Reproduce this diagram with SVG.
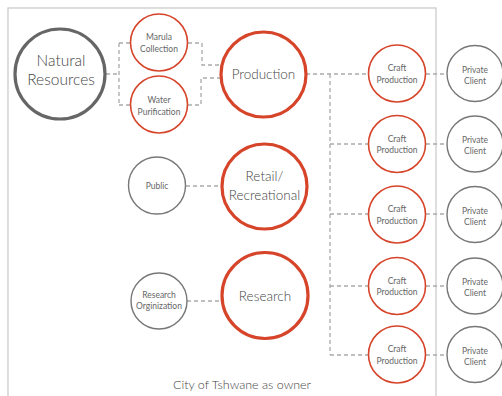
<svg xmlns="http://www.w3.org/2000/svg" width="502" height="396" viewBox="0 0 502 396">
<style>
.red{fill:#fff;stroke:#d6442a;stroke-width:1.6}
.redb{fill:#fff;stroke:#d6442a;stroke-width:3.2}
.gray{fill:#fff;stroke:#777;stroke-width:1.4}
.grayb{fill:#fff;stroke:#666;stroke-width:3.2}
.con{fill:none;stroke:#aaa;stroke-width:1.3;stroke-dasharray:4 3}
text{font-family:Lato,"Liberation Sans",sans-serif;font-weight:300;fill:#444;text-anchor:middle}
.s{font-size:8.5px;font-weight:400;fill:#666}
.m{font-size:13.5px}
.l{font-size:15.5px}
</style>
<rect x="8" y="8" width="428" height="400" fill="#fff" stroke="#ccc" stroke-width="1.3"/>
<g id="connectors">
<path class="con" d="M106 74H119M119 43V105M119 43H130M119 105H130"/>
<path class="con" d="M188 43H202V65H221M188 105H201V78H221"/>
<path class="con" d="M306 74H368M330 74V355M330 144H368M330 214H368M330 286H368M330 355H368"/>
<path class="con" d="M426 74H447M426 144H447M426 214H447M426 286H447M426 355H447"/>
<path class="con" d="M186 186H222M187 301H222"/>
</g>
<g id="natural-resources"><circle class="grayb" cx="60" cy="74" r="45"/><text class="l" x="61" y="66">Natural</text><text class="l" x="61" y="85">Resources</text></g>
<g id="marula"><circle class="red" cx="159" cy="42.5" r="28.5"/><text class="s" x="159" y="40">Marula</text><text class="s" x="159" y="52">Collection</text></g>
<g id="water"><circle class="red" cx="159" cy="104.5" r="28.5"/><text class="s" x="159" y="103">Water</text><text class="s" x="159" y="114.5">Purification</text></g>
<g id="production"><circle class="redb" cx="263.5" cy="74.5" r="42.5"/><text class="m" x="263.5" y="79">Production</text></g>
<g id="retail"><circle class="redb" cx="264.5" cy="186.5" r="42.5"/><text class="m" x="264.5" y="181">Retail/</text><text class="m" x="264.5" y="200">Recreational</text></g>
<g id="research"><circle class="redb" cx="265" cy="295.5" r="43"/><text class="m" x="265" y="300.5">Research</text></g>
<g id="public"><circle class="gray" cx="157" cy="185.5" r="28.5"/><text class="s" x="157" y="188.5">Public</text></g>
<g id="research-org"><circle class="gray" cx="159" cy="301" r="28"/><text class="s" x="159" y="298">Research</text><text class="s" x="159" y="309">Orginization</text></g>
<g id="craft1"><circle class="red" cx="397" cy="73.5" r="28.5"/><text class="s" x="397" y="71">Craft</text><text class="s" x="397" y="82.5">Production</text></g>
<g id="craft2"><circle class="red" cx="397" cy="144" r="28.5"/><text class="s" x="397" y="141.5">Craft</text><text class="s" x="397" y="153">Production</text></g>
<g id="craft3"><circle class="red" cx="397" cy="214.5" r="28.5"/><text class="s" x="397" y="212">Craft</text><text class="s" x="397" y="223.5">Production</text></g>
<g id="craft4"><circle class="red" cx="397" cy="286" r="28.5"/><text class="s" x="397" y="283.5">Craft</text><text class="s" x="397" y="295">Production</text></g>
<g id="craft5"><circle class="red" cx="397" cy="354.5" r="28.5"/><text class="s" x="397" y="352">Craft</text><text class="s" x="397" y="363.5">Production</text></g>
<g id="client1"><circle class="gray" cx="475" cy="73.5" r="28"/><text class="s" x="475" y="72.5">Private</text><text class="s" x="475" y="83.5">Client</text></g>
<g id="client2"><circle class="gray" cx="475" cy="144" r="28"/><text class="s" x="475" y="143">Private</text><text class="s" x="475" y="154">Client</text></g>
<g id="client3"><circle class="gray" cx="475" cy="214.5" r="28"/><text class="s" x="475" y="213.5">Private</text><text class="s" x="475" y="224.5">Client</text></g>
<g id="client4"><circle class="gray" cx="475" cy="286" r="28"/><text class="s" x="475" y="285">Private</text><text class="s" x="475" y="296">Client</text></g>
<g id="client5"><circle class="gray" cx="475" cy="354.5" r="28"/><text class="s" x="475" y="353.5">Private</text><text class="s" x="475" y="364.5">Client</text></g>
<text x="242" y="389" style="font-size:12.5px">City of Tshwane as owner</text>
</svg>
